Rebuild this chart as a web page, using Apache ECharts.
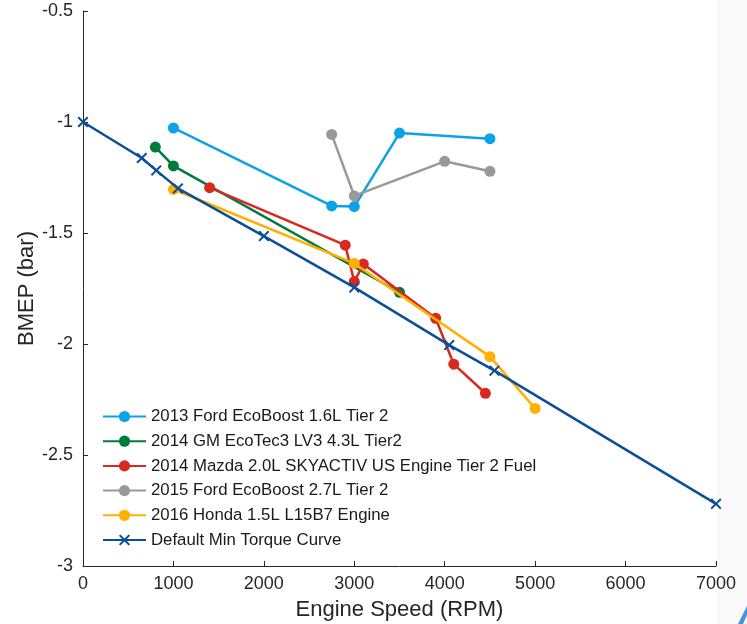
<!DOCTYPE html>
<html>
<head>
<meta charset="utf-8">
<script src="https://cdn.jsdelivr.net/npm/echarts@6/dist/echarts.min.js"></script>
<style>html,body{margin:0;padding:0;background:#fff}#c{width:747px;height:624px}</style>
</head>
<body>
<div id="c"></div>
<script>
const seriesNames = [
  "2013 Ford EcoBoost 1.6L Tier 2",
  "2014 GM EcoTec3 LV3 4.3L Tier2",
  "2014 Mazda 2.0L SKYACTIV US Engine Tier 2 Fuel",
  "2015 Ford EcoBoost 2.7L Tier 2",
  "2016 Honda 1.5L L15B7 Engine",
  "Default Min Torque Curve"
];
const ford16Rpm = [1000, 2750, 3000, 3500, 4500];
const ford16Bmep = [-1.027, -1.378, -1.381, -1.05, -1.075];
const gmRpm = [800, 1000, 3500];
const gmBmep = [-1.113, -1.198, -1.767];
const mazdaRpm = [1400, 2900, 3000, 3100, 3900, 4100, 4450];
const mazdaBmep = [-1.296, -1.555, -1.719, -1.64, -1.884, -2.091, -2.222];
const ford27Rpm = [2750, 3000, 4000, 4500];
const ford27Bmep = [-1.056, -1.333, -1.177, -1.222];
const hondaRpm = [1000, 3000, 4500, 5000];
const hondaBmep = [-1.303, -1.637, -2.057, -2.29];
const defaultRpm = [0, 650, 810, 1050, 2000, 3000, 4050, 4550, 7000];
const defaultBmep = [-1.0, -1.162, -1.218, -1.299, -1.514, -1.745, -2.005, -2.12, -2.72];
const xTicks = {min: 0, max: 7000, interval: 1000};
const yTicks = {min: -3, max: -0.5, interval: 0.5};

const colors = ["#0ba2e6", "#007a3d", "#d9281e", "#999999", "#ffb000", "#0a4f98"];
const xs = [ford16Rpm, gmRpm, mazdaRpm, ford27Rpm, hondaRpm, defaultRpm];
const ys = [ford16Bmep, gmBmep, mazdaBmep, ford27Bmep, hondaBmep, defaultBmep];
const crossPath = "path://M0,1.3L1.3,0L5,3.7L8.7,0L10,1.3L6.3,5L10,8.7L8.7,10L5,6.3L1.3,10L0,8.7L3.7,5Z";

const series = seriesNames.map((name, i) => ({
  name: name,
  type: "line",
  data: xs[i].map((x, k) => [x, ys[i][k]]),
  symbol: i === 5 ? crossPath : "circle",
  symbolSize: 11,
  showAllSymbol: true,
  lineStyle: {color: colors[i], width: 2.5},
  itemStyle: {color: colors[i], borderWidth: 0},
  emphasis: {disabled: true},
  animation: false,
  z: 2 + i
}));

const chart = echarts.init(document.getElementById("c"), null, {renderer: "canvas"});
const font = "'Liberation Sans', Arial, sans-serif";
chart.setOption({
  backgroundColor: "#ffffff",
  animation: false,
  graphic: [
    {type: "rect", z: -10, silent: true, shape: {x: 717, y: 0, width: 30, height: 624}, style: {fill: "#f9f9f9"}},
    {type: "polygon", z: 10, silent: true, shape: {points: [[738, 624], [743, 624], [747, 615], [747, 606]]}, style: {fill: "#4a90dc"}}
  ],
  grid: {left: 83, right: 31, top: 11, bottom: 58, containLabel: false, outerBoundsMode: "none"},
  legend: {
    orient: "vertical",
    left: 102,
    top: 408,
    padding: 0,
    itemWidth: 43,
    itemHeight: 14,
    itemGap: 7.7,
    itemTextGap: 5,
    textStyle: {fontFamily: font, fontSize: 16.8, lineHeight: 17, color: "#1a1a1a"},
    data: seriesNames
  },
  xAxis: {
    type: "value",
    min: xTicks.min, max: xTicks.max, interval: xTicks.interval,
    name: "Engine Speed (RPM)",
    nameLocation: "middle",
    nameGap: 33,
    nameTextStyle: {fontFamily: font, fontSize: 22, color: "#262626"},
    axisLine: {show: true, onZero: false, lineStyle: {color: "#262626", width: 1}},
    axisTick: {show: true, inside: true, length: 5, lineStyle: {color: "#262626"}},
    axisLabel: {fontFamily: font, fontSize: 18, color: "#262626", margin: 9, formatter: v => String(v)},
    splitLine: {show: false}
  },
  yAxis: {
    type: "value",
    min: yTicks.min, max: yTicks.max, interval: yTicks.interval,
    name: "BMEP (bar)",
    nameLocation: "middle",
    nameGap: 45,
    nameMoveOverlap: false,
    nameTextStyle: {fontFamily: font, fontSize: 22, color: "#262626"},
    axisLine: {show: true, onZero: false, lineStyle: {color: "#262626", width: 1}},
    axisTick: {show: true, inside: true, length: 5, lineStyle: {color: "#262626"}},
    axisLabel: {fontFamily: font, fontSize: 18, color: "#262626", margin: 10, formatter: v => String(v)},
    splitLine: {show: false}
  },
  series: series
});
</script>
</body>
</html>
